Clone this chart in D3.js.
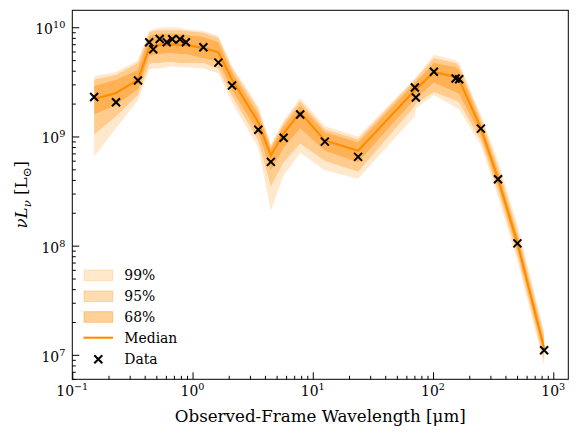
<!DOCTYPE html>
<html>
<head>
<meta charset="utf-8">
<script src="https://cdnjs.cloudflare.com/ajax/libs/d3/7.8.5/d3.min.js"></script>
<style>
  body { margin: 0; background: #fff; }
  svg text { font-family: "DejaVu Serif", "Liberation Serif", serif; fill: #000; }
</style>
</head>
<body>
<div id="chart"></div>
<script>
// observed-frame wavelengths (micron)
const wavelength = [0.152, 0.231, 0.352, 0.436, 0.471, 0.533, 0.610, 0.678, 0.785, 0.881,
  1.23, 1.64, 2.13, 3.52, 4.48, 5.72, 7.85, 12.6, 23.8, 70.6, 72.0, 101.6, 154, 165, 250, 347, 503, 839]

// photometry (L_sun)
const observed = [2.30e9, 2.06e9, 3.25e9, 7.28e9, 6.28e9, 7.80e9, 7.28e9, 7.76e9, 7.76e9, 7.28e9,
  6.55e9, 4.74e9, 2.93e9, 1.15e9, 5.85e8, 9.73e8, 1.59e9, 8.96e8, 6.50e8, 2.81e9, 2.27e9, 3.91e9,
  3.40e9, 3.34e9, 1.18e9, 4.05e8, 1.05e8, 1.10e7]

// model median and credible bands
const median = [2.2e9, 2.5e9, 3.3e9, 6.45e9, 6.7e9, 6.9e9, 6.9e9, 7.0e9, 6.9e9, 6.9e9,
  6.45e9, 5.9e9, 3.3e9, 1.35e9, 6.7e8, 1.07e9, 1.66e9, 9.2e8, 7.4e8, 2.65e9, 2.7e9, 3.9e9,
  3.5e9, 3.3e9, 1.19e9, 4.1e8, 1.06e8, 1.15e7]
const upper68 = [2.9e9, 3.3e9, 4.05e9, 8.3e9, 8.5e9, 8.7e9, 8.7e9, 8.7e9, 8.7e9, 8.5e9,
  8.15e9, 7.3e9, 3.9e9, 1.6e9, 7.75e8, 1.24e9, 1.93e9, 1.09e9, 8.8e8, 3.1e9, 3.15e9, 4.7e9,
  4.3e9, 4.05e9, 1.35e9, 4.75e8, 1.23e8, 1.33e7]
const lower68 = [1.6e9, 1.93e9, 2.7e9, 5.45e9, 5.6e9, 5.7e9, 5.8e9, 5.8e9, 5.7e9, 5.7e9,
  5.2e9, 4.9e9, 2.65e9, 1.09e9, 4.9e8, 7.9e8, 1.19e9, 7.4e8, 5.8e8, 2.2e9, 2.25e9, 3.1e9,
  2.55e9, 2.45e9, 1.02e9, 3.55e8, 9.1e7, 9.9e6]
const upper95 = [3.3e9, 3.65e9, 4.7e9, 8.9e9, 9.25e9, 9.4e9, 9.4e9, 9.4e9, 9.4e9, 9.25e9,
  8.9e9, 8.0e9, 4.2e9, 1.77e9, 8.1e8, 1.32e9, 2.1e9, 1.16e9, 9.4e8, 3.3e9, 3.35e9, 5.2e9,
  4.7e9, 4.4e9, 1.47e9, 5.3e8, 1.37e8, 1.48e7]
const lower95 = [1.04e9, 1.53e9, 2.4e9, 4.6e9, 4.7e9, 4.7e9, 4.8e9, 4.8e9, 4.7e9, 4.7e9,
  4.7e9, 4.2e9, 2.35e9, 9.2e8, 3.5e8, 5.8e8, 8.6e8, 6.0e8, 4.75e8, 1.9e9, 2.0e9, 2.55e9,
  2.15e9, 2.05e9, 9.2e8, 3.2e8, 8.2e7, 8.9e6]
const upper99 = [3.55e9, 3.9e9, 5.0e9, 9.25e9, 9.6e9, 9.9e9, 1.0e10, 1.0e10, 9.9e9, 9.6e9,
  9.25e9, 8.3e9, 4.4e9, 1.9e9, 8.45e8, 1.4e9, 2.25e9, 1.24e9, 1.0e9, 3.4e9, 3.5e9, 5.6e9,
  5.0e9, 4.7e9, 1.56e9, 6.0e8, 1.55e8, 1.65e7]
const lower99 = [6.55e8, 1.19e9, 2.15e9, 4.1e9, 4.2e9, 4.2e9, 4.3e9, 4.4e9, 4.3e9, 4.3e9,
  4.2e9, 3.8e9, 2.05e9, 7.9e8, 2.1e8, 4.4e8, 7.1e8, 4.9e8, 4.1e8, 1.53e9, 1.8e9, 2.4e9,
  1.85e9, 1.77e9, 8.3e8, 2.8e8, 7.2e7, 8.0e6]

const xTickExp = [-1, 0, 1, 2, 3]
const yTickExp = [7, 8, 9, 10]
const legendLabels = ['99%', '95%', '68%', 'Median', 'Data']

;(function() {

const width = 577,
      height = 438
const padLeft = 72.3, padRight = 568.3, padTop = 10.3, padBottom = 379.3
const orange = '#ff8c00'
const tickFont = 13.9, supFont = 9.7

const svg = d3.select('#chart')
  .append('svg')
  .attr('width', width)
  .attr('height', height)

const x = d3.scaleLog()
  .domain([0.1, 1333])
  .range([padLeft, padRight])

const y = d3.scaleLog()
  .domain([5.97e6, 1.43e10])
  .range([padBottom, padTop])

const rows = wavelength.map(function(w, i) {
  return {
    w: w, obs: observed[i], med: median[i],
    lo68: lower68[i], hi68: upper68[i],
    lo95: lower95[i], hi95: upper95[i],
    lo99: lower99[i], hi99: upper99[i]
  }
})

const bands = [
  { lo: 'lo99', hi: 'hi99', alpha: 0.2 },
  { lo: 'lo95', hi: 'hi95', alpha: 0.3 },
  { lo: 'lo68', hi: 'hi68', alpha: 0.4 }
]

const plot = svg.append('g')

bands.forEach(function(b) {
  const area = d3.area()
    .x(function(d) { return x(d.w) })
    .y0(function(d) { return y(d[b.lo]) })
    .y1(function(d) { return y(d[b.hi]) })
  plot.append('path')
    .datum(rows)
    .attr('d', area)
    .attr('fill', orange)
    .attr('fill-opacity', b.alpha)
})

const line = d3.line()
  .x(function(d) { return x(d.w) })
  .y(function(d) { return y(d.med) })

plot.append('path')
  .datum(rows)
  .attr('d', line)
  .attr('fill', 'none')
  .attr('stroke', orange)
  .attr('stroke-width', 2.1)

function cross(sel, s) {
  sel.append('path')
    .attr('d', 'M' + (-s) + ',' + (-s) + 'L' + s + ',' + s + 'M' + (-s) + ',' + s + 'L' + s + ',' + (-s))
    .attr('stroke', '#000')
    .attr('stroke-width', 2)
}

plot.selectAll('.pt')
  .data(rows)
  .enter()
  .append('g')
  .attr('class', 'pt')
  .attr('transform', function(d) { return 'translate(' + x(d.w) + ',' + y(d.obs) + ')' })
  .call(cross, 4)

// ticks (pointing inward)
const majorX = xTickExp.map(function(e) { return Math.pow(10, e) })
const majorY = yTickExp.map(function(e) { return Math.pow(10, e) })
const minorX = [], minorY = []
for (let e = -1; e < 4; e++) {
  for (let k = 2; k < 10; k++) {
    const v = k * Math.pow(10, e)
    if (v <= x.domain()[1]) minorX.push(v)
  }
}
for (let e = 6; e < 11; e++) {
  for (let k = 2; k < 10; k++) {
    const v = k * Math.pow(10, e)
    if (v >= y.domain()[0] && v <= y.domain()[1]) minorY.push(v)
  }
}

const xAxis = svg.append('g').attr('transform', 'translate(0,' + padBottom + ')')
xAxis.call(d3.axisBottom(x).tickValues(majorX).tickSize(-7).tickSizeOuter(0).tickFormat(''))
xAxis.append('g').call(d3.axisBottom(x).tickValues(minorX).tickSize(-3.5).tickSizeOuter(0).tickFormat(''))

const yAxis = svg.append('g').attr('transform', 'translate(' + padLeft + ',0)')
yAxis.call(d3.axisLeft(y).tickValues(majorY).tickSize(-7).tickSizeOuter(0).tickFormat(''))
yAxis.append('g').call(d3.axisLeft(y).tickValues(minorY).tickSize(-3.5).tickSizeOuter(0).tickFormat(''))

svg.selectAll('.domain').remove()
svg.selectAll('.tick line').attr('stroke', '#000').attr('stroke-width', 1)

function powLabel(sel, exp) {
  sel.append('tspan').text('10')
  sel.append('tspan')
    .attr('dy', -6)
    .attr('font-size', supFont + 'px')
    .text(String(exp).replace('-', '\u2212'))
}

xTickExp.forEach(function(e, i) {
  svg.append('text')
    .attr('x', x(majorX[i]))
    .attr('y', padBottom + 17)
    .attr('text-anchor', 'middle')
    .attr('font-size', tickFont + 'px')
    .call(powLabel, e)
})

yTickExp.forEach(function(e, i) {
  svg.append('text')
    .attr('x', padLeft - 7)
    .attr('y', y(majorY[i]) + 7)
    .attr('text-anchor', 'end')
    .attr('font-size', tickFont + 'px')
    .call(powLabel, e)
})

// frame
svg.append('rect')
  .attr('x', padLeft)
  .attr('y', padTop)
  .attr('width', padRight - padLeft)
  .attr('height', padBottom - padTop)
  .attr('fill', 'none')
  .attr('stroke', '#000')
  .attr('stroke-width', 1)

// axis labels
svg.append('text')
  .attr('x', (padLeft + padRight) / 2)
  .attr('y', 421.8)
  .attr('text-anchor', 'middle')
  .attr('font-size', '16.7px')
  .text('Observed-Frame Wavelength [\u03bcm]')

const yLab = svg.append('text')
  .attr('transform', 'translate(27,' + ((padTop + padBottom) / 2) + ') rotate(-90)')
  .attr('text-anchor', 'middle')
  .attr('font-size', '16.7px')
yLab.append('tspan').attr('font-style', 'italic').text('\u03bdL')
yLab.append('tspan').attr('font-style', 'italic').attr('font-size', '11.7px').attr('dy', 3.5).text('\u03bd')
yLab.append('tspan').attr('dy', -3.5).text(' [L')
yLab.append('tspan').attr('font-size', '11.7px').attr('dy', 3.5).text('\u2299')
yLab.append('tspan').attr('dy', -3.5).text(']')

// legend
const legY = [275.3, 296.3, 317, 337.7, 359.3]
const legend = svg.append('g')

bands.forEach(function(b, i) {
  legend.append('rect')
    .attr('x', 84)
    .attr('y', legY[i] - 5.3)
    .attr('width', 28.7)
    .attr('height', 10.6)
    .attr('fill', orange)
    .attr('fill-opacity', b.alpha)
    .attr('stroke', orange)
    .attr('stroke-opacity', b.alpha)
})

legend.append('line')
  .attr('x1', 83.5).attr('x2', 113)
  .attr('y1', legY[3]).attr('y2', legY[3])
  .attr('stroke', orange)
  .attr('stroke-width', 2.1)

legend.append('g')
  .attr('transform', 'translate(98.3,' + legY[4] + ')')
  .call(cross, 4)

legendLabels.forEach(function(t, i) {
  legend.append('text')
    .attr('x', 124.3)
    .attr('y', legY[i] + 5)
    .attr('font-size', tickFont + 'px')
    .text(t)
})

})()
</script>
</body>
</html>
